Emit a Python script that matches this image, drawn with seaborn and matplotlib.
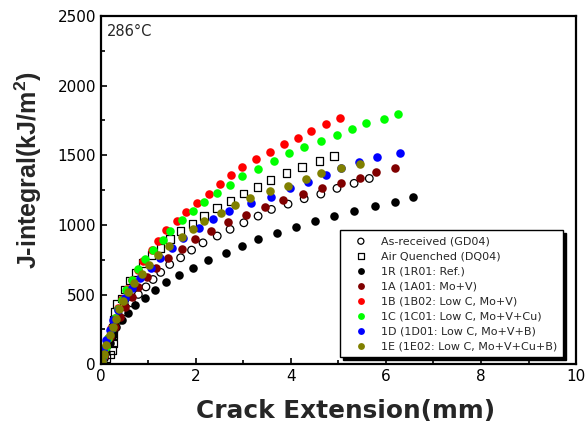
import numpy as np
import pandas as pd
import matplotlib
matplotlib.use("Agg")
import matplotlib.pyplot as plt
import seaborn as sns
from matplotlib.ticker import MultipleLocator

# J-R curves at 286 C
gd04_x = [0.02, 0.06, 0.10, 0.15, 0.23, 0.29, 0.40, 0.51, 0.65, 0.79, 0.95, 1.10, 1.26, 1.45,
          1.68, 1.91, 2.15, 2.45, 2.72, 3.01, 3.31, 3.59, 3.94, 4.28, 4.63, 4.97, 5.33, 5.65]
gd04_y = [15, 50, 90, 137, 196, 256, 316, 376, 440, 501, 555, 608, 659, 716,
          764, 819, 871, 920, 968, 1015, 1063, 1111, 1149, 1188, 1221, 1262, 1298, 1333]

dq04_x = [0.04, 0.12, 0.20, 0.24, 0.26, 0.26, 0.26, 0.27, 0.29, 0.33, 0.44, 0.51, 0.62, 0.73, 0.89,
          1.07, 1.26, 1.45, 1.68, 1.93, 2.17, 2.44, 2.73, 3.00, 3.30, 3.57, 3.91, 4.23, 4.60, 4.91]
dq04_y = [20, 45, 70, 100, 150, 210, 260, 316, 376, 431, 472, 537, 600, 659, 728,
          783, 836, 898, 958, 1006, 1065, 1119, 1173, 1224, 1274, 1324, 1374, 1415, 1458, 1494]

r1_x = [0.02, 0.06, 0.12, 0.19, 0.26, 0.33, 0.44, 0.57, 0.73, 0.93, 1.14, 1.38, 1.64, 1.94,
        2.26, 2.63, 2.97, 3.31, 3.70, 4.11, 4.51, 4.91, 5.33, 5.78, 6.19, 6.56]
r1_y = [15, 45, 88, 149, 208, 264, 316, 369, 424, 477, 532, 589, 639, 692,
        747, 800, 848, 898, 943, 986, 1027, 1065, 1101, 1135, 1166, 1202]

a1_x = [0.02, 0.06, 0.12, 0.20, 0.29, 0.40, 0.51, 0.65, 0.79, 0.97, 1.17, 1.42, 1.70, 1.99,
        2.32, 2.67, 3.05, 3.45, 3.84, 4.25, 4.65, 5.05, 5.45, 5.79, 6.19]
a1_y = [20, 60, 124, 196, 268, 340, 412, 484, 551, 623, 692, 764, 826, 896,
        958, 1020, 1070, 1126, 1178, 1219, 1262, 1302, 1338, 1377, 1405]

b1_x = [0.02, 0.04, 0.09, 0.15, 0.22, 0.29, 0.37, 0.45, 0.55, 0.65, 0.79, 0.89, 1.07, 1.21, 1.37,
        1.61, 1.79, 2.03, 2.27, 2.51, 2.73, 2.98, 3.26, 3.56, 3.86, 4.15, 4.43, 4.73, 5.03]
b1_y = [20, 55, 120, 190, 260, 330, 400, 470, 540, 608, 675, 742, 819, 884, 960,
        1027, 1094, 1159, 1224, 1291, 1356, 1415, 1471, 1523, 1578, 1626, 1674, 1722, 1765]

c1_x = [0.02, 0.05, 0.10, 0.16, 0.23, 0.30, 0.37, 0.45, 0.54, 0.66, 0.79, 0.93, 1.10, 1.30, 1.45, 1.70,
        1.94, 2.18, 2.44, 2.72, 2.98, 3.31, 3.64, 3.95, 4.27, 4.63, 4.97, 5.28, 5.57, 5.95, 6.25]
c1_y = [20, 60, 125, 190, 260, 330, 395, 460, 532, 603, 680, 752, 819, 891, 958, 1034,
        1099, 1164, 1228, 1288, 1348, 1403, 1458, 1514, 1561, 1602, 1645, 1686, 1729, 1758, 1794]

d1_x = [0.02, 0.05, 0.12, 0.19, 0.26, 0.36, 0.51, 0.65, 0.82, 1.05, 1.24, 1.49, 1.73,
        2.06, 2.36, 2.70, 3.17, 3.59, 3.98, 4.36, 4.74, 5.05, 5.44, 5.82, 6.29]
d1_y = [30, 101, 172, 244, 316, 388, 472, 544, 616, 688, 759, 836, 903,
        979, 1042, 1101, 1154, 1202, 1262, 1310, 1358, 1405, 1453, 1489, 1513]

e1_x = [0.02, 0.06, 0.12, 0.19, 0.26, 0.32, 0.39, 0.47, 0.57, 0.69, 0.86, 1.02, 1.21,
        1.43, 1.70, 1.93, 2.17, 2.53, 2.82, 3.15, 3.56, 3.94, 4.32, 4.63, 5.05, 5.45]
e1_y = [20, 70, 140, 210, 270, 328, 393, 455, 519, 584, 651, 711, 783,
        848, 914, 970, 1029, 1083, 1140, 1195, 1243, 1281, 1327, 1370, 1405, 1437]

labels = ['As-received (GD04)', 'Air Quenched (DQ04)', '1R (1R01: Ref.)', '1A (1A01: Mo+V)',
          '1B (1B02: Low C, Mo+V)', '1C (1C01: Low C, Mo+V+Cu)', '1D (1D01: Low C, Mo+V+B)',
          '1E (1E02: Low C, Mo+V+Cu+B)']
xs = [gd04_x, dq04_x, r1_x, a1_x, b1_x, c1_x, d1_x, e1_x]
ys = [gd04_y, dq04_y, r1_y, a1_y, b1_y, c1_y, d1_y, e1_y]
colors = ['black', 'black', 'black', '#800000', '#ff0000', '#00ff00', '#0000ff', '#808000']
markers = ['o', 's', 'o', 'o', 'o', 'o', 'o', 'o']
hollow = [True, True, False, False, False, False, False, False]

sns.set_style("ticks")
plt.rcParams['font.family'] = ['DejaVu Sans']
plt.rcParams['mathtext.fontset'] = 'custom'
plt.rcParams['mathtext.bf'] = 'Liberation Sans:bold'

fig, ax = plt.subplots(figsize=(5.86, 4.29), dpi=100)
fig.subplots_adjust(left=0.172, right=0.983, top=0.963, bottom=0.151)

for x, y, lab, c, m, h in zip(xs, ys, labels, colors, markers, hollow):
    df = pd.DataFrame({'x': x, 'y': y})
    if h:
        sns.scatterplot(data=df, x='x', y='y', ax=ax, marker=m, s=30, facecolors='none',
                        edgecolors=c, linewidths=0.9, label=lab)
    else:
        sns.scatterplot(data=df, x='x', y='y', ax=ax, marker=m, s=38, color=c,
                        edgecolor=c, linewidth=0, label=lab)

ax.set_xlim(0, 10)
ax.set_ylim(0, 2500)
ax.xaxis.set_major_locator(MultipleLocator(2))
ax.xaxis.set_minor_locator(MultipleLocator(1))
ax.yaxis.set_major_locator(MultipleLocator(500))
ax.yaxis.set_minor_locator(MultipleLocator(250))
ax.tick_params(which='both', direction='in', width=1.2, labelsize=11, colors='black')
ax.tick_params(which='major', length=4)
ax.tick_params(which='minor', length=3)
for sp in ax.spines.values():
    sp.set_linewidth(1.6)
    sp.set_color('black')

ax.set_xlabel('Crack Extension(mm)', fontsize=17.8, fontweight='bold', va='top')
ax.xaxis.set_label_coords(0.516, -0.1)
ax.set_ylabel(r'J-integral(kJ/m$^{\mathbf{2}}$)', fontsize=18, fontweight='bold',
              family='Liberation Sans')
ax.yaxis.set_label_coords(-0.119, 0.557)
ax.text(0.012, 0.978, '286°C', transform=ax.transAxes, ha='left', va='top', fontsize=10.5)

leg = ax.legend(loc='lower right', bbox_to_anchor=(0.973, 0.02), borderaxespad=0,
                fontsize=8, frameon=True, fancybox=False, edgecolor='black', framealpha=1,
                labelspacing=0.45, handletextpad=0.5, markerscale=0.8, borderpad=0.55,
                handlelength=2.6, shadow={'color': 'black', 'alpha': 1})
leg.get_frame().set_linewidth(1.0)

plt.savefig('out.png', dpi=100)
